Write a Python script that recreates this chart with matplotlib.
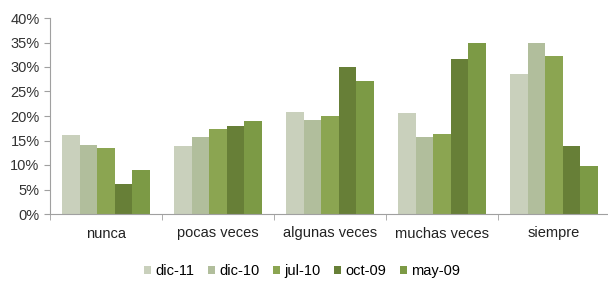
import numpy as np
import matplotlib.pyplot as plt
from matplotlib.ticker import PercentFormatter

categories = ["nunca", "pocas veces", "algunas veces", "muchas veces", "siempre"]
series_names = ["dic-11", "dic-10", "jul-10", "oct-09", "may-09"]

dic_11 = [16.2, 13.8, 20.9, 20.7, 28.5]
dic_10 = [14.0, 15.8, 19.2, 15.8, 34.8]
jul_10 = [13.5, 17.4, 20.0, 16.3, 32.3]
oct_09 = [6.2, 17.9, 30.1, 31.6, 13.8]
may_09 = [8.9, 19.0, 27.1, 35.0, 9.8]

series = [dic_11, dic_10, jul_10, oct_09, may_09]
colors = ["#c9d0bc", "#b1be9c", "#8ba551", "#677f37", "#7c9a45"]

plt.rcParams['font.family'] = ['Liberation Sans', 'DejaVu Sans']

fig = plt.figure(figsize=(6.08, 2.84), dpi=100)
ax = fig.add_axes([50 / 608, 1 - 214 / 284, 560 / 608, 196 / 284])

x = np.arange(len(categories))
bw = 0.156
for i, (name, vals) in enumerate(zip(series_names, series)):
    ax.bar(x + (i - 2) * bw, vals, width=bw, color=colors[i], label=name,
           linewidth=0)

ax.set_xlim(-0.5, len(categories) - 0.5)
ax.set_ylim(0, 40)
ax.set_yticks(np.arange(0, 41, 5))
ax.yaxis.set_major_formatter(PercentFormatter(decimals=0))

# etiquetas centradas, ticks en los límites de categoría
ax.set_xticks(x)
ax.set_xticklabels(categories, fontsize=10.5)
ax.set_xticks(np.arange(-0.5, len(categories), 1), minor=True)
ax.tick_params(axis='x', which='major', length=0, pad=9, labelcolor='#222222')
ax.tick_params(axis='x', which='minor', length=4, color='#a0a0a0', direction='out')
ax.tick_params(axis='y', length=4, color='#a0a0a0', labelsize=10.5, labelcolor='#333333')

for s in ['top', 'right']:
    ax.spines[s].set_visible(False)
ax.spines['left'].set_color('#a0a0a0')
ax.spines['bottom'].set_color('#a0a0a0')

fig.legend(loc='center', bbox_to_anchor=(0.497, 1 - 271 / 284), ncol=5,
           frameon=False, handlelength=0.5, handleheight=0.5,
           handletextpad=0.3, columnspacing=0.9,
           prop={'size': 10.5})

fig.savefig("out.png", dpi=100)
